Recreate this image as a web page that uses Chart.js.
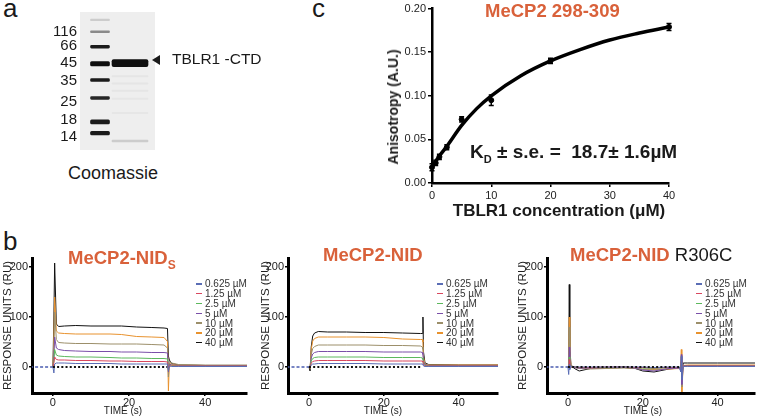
<!DOCTYPE html>
<html>
<head>
<meta charset="utf-8">
<script src="https://cdn.jsdelivr.net/npm/chart.js@4.4.1/dist/chart.umd.min.js"></script>
<style>
  body { margin: 0; background: #fff; font-family: "Liberation Sans", Arial, sans-serif; color: #1a1a1a; }
  #fig { position: relative; width: 762px; height: 420px; overflow: hidden; }
  canvas { position: absolute; }
  .t { position: absolute; white-space: nowrap; line-height: 1; }
  .c { position: absolute; white-space: nowrap; line-height: 1; transform: translate(-50%, -50%); }
  .panel { font-size: 26px; }
  .orange { color: #d9613a; font-weight: bold; }
  .legend { position: absolute; font-size: 10px; color: #333; }
  .legend div { height: 9.8px; display: flex; align-items: center; }
  .legend i { display: inline-block; width: 6px; height: 1.3px; margin-right: 3px; }
  .arrow { position: absolute; width: 0; height: 0; border-top: 5px solid transparent; border-bottom: 5px solid transparent; border-right: 8px solid #1a1a1a; }
  .time { font-size: 10px; color: #222; }
</style>
</head>
<body>
<div id="fig">
  <div class="t panel" style="left:3px;top:-5px;">a</div>
  <div class="t panel" style="left:312px;top:-5px;">c</div>
  <div class="t panel" style="left:3px;top:228px;">b</div>

  <canvas id="gel" width="120" height="162" style="left:40px;top:0px;"></canvas>
  <div class="t" style="left:68px;top:164px;font-size:18px;">Coomassie</div>
  <div class="arrow" style="left:152px;top:55px;"></div>
  <div class="t" style="left:172px;top:51px;font-size:15.5px;">TBLR1 -CTD</div>

  <canvas id="aniso" width="432" height="230" style="left:330px;top:0px;"></canvas>
  <div class="t orange" style="left:485px;top:2px;font-size:18.5px;">MeCP2 298-309</div>
  <div class="t" style="left:470px;top:142px;font-size:19px;font-weight:bold;">K<sub style="font-size:11px;">D</sub> ± s.e. =&nbsp; 18.7± 1.6µM</div>
  <div class="c" style="left:393px;top:107px;font-size:14px;font-weight:bold;transform:translate(-50%,-50%) rotate(-90deg);">Anisotropy (A.U.)</div>
  <div class="c" style="left:559px;top:210px;font-size:17px;font-weight:bold;">TBLR1 concentration (μM)</div>

  <canvas id="spr1" width="255" height="190" style="left:0px;top:230px;"></canvas>
  <canvas id="spr2" width="250" height="190" style="left:255px;top:230px;"></canvas>
  <canvas id="spr3" width="257" height="190" style="left:505px;top:230px;"></canvas>
  <div class="t orange" style="left:68px;top:249px;font-size:18.5px;">MeCP2-NID<sub style="font-size:12px;">S</sub></div>
  <div class="t orange" style="left:323px;top:246px;font-size:18.5px;">MeCP2-NID</div>
  <div class="t" style="left:570px;top:246px;font-size:18.5px;"><span class="orange">MeCP2-NID</span> R306C</div>
  <div class="c time" style="left:123px;top:411px;">TIME (s)</div>
  <div class="c time" style="left:383px;top:411px;">TIME (s)</div>
  <div class="c time" style="left:643px;top:411px;">TIME (s)</div>
  <div class="legend" id="leg1" style="left:196px;top:279px;"></div>
  <div class="legend" id="leg2" style="left:437px;top:279px;"></div>
  <div class="legend" id="leg3" style="left:696px;top:279px;"></div>
</div>

<script>
Chart.defaults.font.family = '"Liberation Sans", Arial, sans-serif';
Chart.defaults.color = '#222';
Chart.defaults.animation = false;

// panel a - gel, migration measured down from the top of the gel
const markerLabels = ['116', '66', '45', '35', '25', '18', '14'];
const markerLabelPos = [22, 38, 57, 77, 100, 120, 139];
const ladderBands = [[7.8, 9.6], [21, 23], [37.2, 40.4], [55.2, 60.2], [74.4, 77.6], [94.4, 97.6], [120.4, 125], [133.2, 137.2]];
const ladderDensity = [0.15, 0.45, 0.95, 1, 0.95, 0.9, 0.95, 0.95];
const sampleBands = [[53, 61], [71, 72.5], [79, 80.5], [87, 88.5], [96, 97.5], [112, 113.5], [143, 145]];
const sampleDensity = [1, 0.04, 0.04, 0.04, 0.035, 0.035, 0.15];

// panel c - anisotropy titration
const tblr1Conc = [0, 0.625, 1.25, 2.5, 5, 10, 20, 40];
const anisotropy = [0.018, 0.023, 0.030, 0.041, 0.073, 0.095, 0.140, 0.179];
const anisoErr = [0.004, 0.003, 0.003, 0.003, 0.003, 0.006, 0.003, 0.004];
const fitConc = [0, 0.625, 1.25, 2.5, 5, 7.5, 10, 15, 20, 25, 30, 35, 40];
const fitAniso = [0.018, 0.025, 0.031, 0.042, 0.066, 0.085, 0.100, 0.123, 0.140, 0.153, 0.164, 0.172, 0.179];

// panel b - SPR sensorgrams
const concLabels = ['0.625 µM', '1.25 µM', '2.5 µM', '5 µM', '10 µM', '20 µM', '40 µM'];
const concColors = ['#5a6db5', '#d8475e', '#5cb85c', '#7a4fa8', '#9c8f6a', '#e8922e', '#111111'];
const sprTimeTicks = [0, 20, 40];
const sprRespTicks = [0, 100, 200];
const zeroTime = [0, 30];
const zeroResp = [0, 0];
const preTime = [-6, 0];
const preResp = [0, 0];

const nidsTime = [0, 0.25, 0.45, 0.9, 1.5, 3, 6, 10, 15, 18, 22, 26, 29.2, 30.1, 30.35, 30.6, 31.2, 33, 40, 51];
const nidsResp = [
  [0, -12, 6, 8, 8, 8, 7, 7, 7, 6, 6, 6, 6, 6, -8, 2, 1, 1, 1, 1],
  [0, 8, 20, 15, 14, 14, 13, 13, 12, 12, 11, 11, 11, 10, -3, 3, 2, 2, 2, 2],
  [0, 12, 35, 24, 22, 21, 20, 20, 19, 18, 18, 17, 17, 16, -5, 4, 3, 2, 2, 2],
  [0, 20, 60, 38, 35, 33, 32, 31, 31, 30, 30, 29, 29, 28, -10, 6, 4, 3, 3, 3],
  [0, 40, 110, 55, 49, 48, 47, 47, 46, 46, 46, 45, 44, 38, -20, 12, 8, 5, 4, 4],
  [0, 60, 140, 72, 68, 67, 66, 66, 66, 65, 61, 60, 59, 51, -48, 8, 5, 4, 3, 3],
  [0, 100, 208, 86, 81, 82, 83, 82, 82, 82, 80, 79, 78, 77, 22, 14, 7, 4, 3, 3]
];

const nidTime = [0, 0.3, 0.6, 1, 1.5, 2.5, 5, 10, 15, 20, 25, 29.8, 30.3, 30.45, 30.6, 31, 32, 40, 50.5];
const nidResp = [
  [0, -1, 4, 6, 6, 7, 7, 7, 7, 6, 6, 6, 6, 5, 2, 1, 1, 1, 1],
  [0, -1, 8, 11, 12, 13, 13, 13, 13, 12, 12, 12, 12, 10, 4, 2, 2, 2, 2],
  [0, -1, 12, 17, 19, 20, 20, 20, 20, 19, 19, 19, 18, 15, 6, 3, 2, 2, 2],
  [0, -2, 18, 26, 29, 31, 31, 31, 31, 30, 30, 30, 29, 25, 10, 4, 3, 3, 3],
  [0, -2, 25, 37, 41, 44, 44, 44, 44, 43, 43, 42, 40, 35, 15, 5, 4, 3, 3],
  [0, -3, 35, 52, 57, 60, 60, 60, 60, 59, 56, 55, 55, 50, 20, 6, 4, 4, 4],
  [0, -8, 40, 62, 68, 71, 70, 70, 69, 69, 68, 67, 67, 100, 30, 8, 5, 4, 4]
];

const r306cTime = [0, 0.2, 0.35, 0.5, 0.8, 1.5, 3, 6, 10, 15, 18, 20, 23, 27, 29.8, 30.15, 30.3, 30.45, 30.8, 32, 40, 50];
const r306cResp = [
  [0, -15, 5, -5, 2, 0, 0, 0, 0, 0, 0, 0, -1, 0, 0, -10, 22, -25, 1, 1, 1, 1],
  [0, 0, 15, 3, 0, 0, -1, -1, 0, 0, -1, -1, -2, -1, -1, -5, 12, -12, 2, 2, 2, 2],
  [0, 0, 20, 5, 0, 0, -1, -1, -1, 0, -1, -2, -3, -1, -1, -5, 10, -15, 2, 2, 2, 2],
  [0, 0, 40, 10, 0, -1, -2, -2, -1, 0, -2, -6, -8, -3, -2, -8, 25, -35, 3, 3, 3, 3],
  [0, 0, 80, 20, 2, -1, -3, -4, -3, -2, -3, -5, -6, -3, -2, -6, 20, -40, 3, 3, 3, 3],
  [0, 0, 100, 30, 3, 0, -2, -3, -2, -1, -2, -4, -5, -4, -3, -5, 35, -50, 3, 4, 4, 4],
  [0, 0, 165, 40, 5, -2, -8, -3, -2, -1, -3, -8, -10, -4, -2, -5, 10, -20, 8, 8, 8, 8]
];

function pts(xs, ys) {
  return xs.map((x, i) => ({ x: x, y: ys[i] }));
}

// ---------- gel ----------
const gelBg = {
  id: 'gelBg',
  beforeDatasetsDraw(chart) {
    const a = chart.chartArea, ctx = chart.ctx;
    ctx.save();
    ctx.fillStyle = '#eeeeee';
    ctx.fillRect(a.left, a.top, a.right - a.left, a.bottom - a.top);
    ctx.restore();
  }
};

new Chart(document.getElementById('gel'), {
  type: 'bar',
  data: {
    datasets: [
      {
        data: ladderBands.map(b => ({ x: 1, y: b })),
        backgroundColor: ladderDensity.map(d => 'rgba(15,15,15,' + d + ')'),
        barThickness: 19, grouped: false, borderRadius: 1.5, borderSkipped: false
      },
      {
        data: sampleBands.map(b => ({ x: 2.5, y: b })),
        backgroundColor: sampleDensity.map(d => 'rgba(15,15,15,' + d + ')'),
        barThickness: 36, grouped: false, borderRadius: 2, borderSkipped: false
      }
    ]
  },
  options: {
    responsive: false,
    events: [],
    layout: { padding: { left: 0, right: 5, top: 3, bottom: 5 } },
    plugins: { legend: { display: false }, tooltip: { enabled: false } },
    scales: {
      x: { type: 'linear', min: 0, max: 3.75, offset: false, display: false },
      y: {
        type: 'linear', min: 0, max: 154, reverse: true,
        afterFit: s => { s.width = 40; },
        afterBuildTicks: s => { s.ticks = markerLabelPos.map(v => ({ value: v })); },
        grid: { display: false, drawTicks: false },
        border: { display: false },
        ticks: { autoSkip: false, padding: 3, color: '#1a1a1a', font: { size: 15 }, callback: (v, i) => markerLabels[i] }
      }
    }
  },
  plugins: [gelBg]
});

// ---------- anisotropy ----------
const errorBars = {
  id: 'errorBars',
  afterDatasetsDraw(chart) {
    const ctx = chart.ctx, x = chart.scales.x, y = chart.scales.y;
    ctx.save();
    ctx.strokeStyle = '#000';
    ctx.lineWidth = 1.5;
    tblr1Conc.forEach((c, i) => {
      const px = x.getPixelForValue(c);
      const top = y.getPixelForValue(anisotropy[i] + anisoErr[i]);
      const bot = y.getPixelForValue(anisotropy[i] - anisoErr[i]);
      ctx.beginPath();
      ctx.moveTo(px, top); ctx.lineTo(px, bot);
      ctx.moveTo(px - 2.5, top); ctx.lineTo(px + 2.5, top);
      ctx.moveTo(px - 2.5, bot); ctx.lineTo(px + 2.5, bot);
      ctx.stroke();
    });
    ctx.restore();
  }
};

const axisGrid = { drawOnChartArea: false, color: '#000', lineWidth: 1.5, tickLength: 4 };

new Chart(document.getElementById('aniso'), {
  type: 'line',
  data: {
    datasets: [
      {
        data: pts(tblr1Conc, anisotropy), showLine: false, clip: false,
        pointRadius: 2.5, pointBackgroundColor: '#000', pointBorderColor: '#000'
      },
      {
        data: pts(fitConc, fitAniso), borderColor: '#000', borderWidth: 3.5,
        pointRadius: 0, cubicInterpolationMode: 'monotone', clip: false
      }
    ]
  },
  options: {
    responsive: false,
    events: [],
    layout: { padding: { left: 0, right: 93, top: 7, bottom: 0 } },
    plugins: { legend: { display: false }, tooltip: { enabled: false } },
    scales: {
      x: {
        type: 'linear', min: 0, max: 40,
        afterFit: s => { s.height = 47; },
        border: { color: '#000', width: 2.5 },
        grid: axisGrid,
        ticks: { stepSize: 10, padding: 2, font: { size: 11 }, maxRotation: 0 }
      },
      y: {
        type: 'linear', min: 0, max: 0.2,
        afterFit: s => { s.width = 102; },
        border: { color: '#000', width: 2.5 },
        grid: axisGrid,
        ticks: { stepSize: 0.05, padding: 2, font: { size: 11 }, callback: v => v.toFixed(2) }
      }
    }
  },
  plugins: [errorBars]
});

// ---------- SPR ----------
function makeSpr(id, time, resp, xMin, xMax, yWidth, padRight, titlePad) {
  const datasets = [
    { data: pts(zeroTime, zeroResp), borderColor: '#111', borderWidth: 2, borderDash: [2, 2.2], pointRadius: 0 },
    { data: pts(preTime, preResp), borderColor: '#4a5cb0', borderWidth: 1.5, borderDash: [3, 2], pointRadius: 0 }
  ];
  for (let k = resp.length - 1; k >= 0; k--) {
    datasets.splice(2, 0, { data: pts(time, resp[k]), borderColor: concColors[k], borderWidth: 1, pointRadius: 0 });
  }
  const axis = {
    border: { color: '#000', width: 3, dash: [4, 1.5] },
    grid: { drawOnChartArea: false, color: '#000', lineWidth: 1.5, tickLength: 3 }
  };
  new Chart(document.getElementById(id), {
    type: 'line',
    data: { datasets: datasets },
    options: {
      responsive: false,
      events: [],
      layout: { padding: { left: 0, right: padRight, top: 28, bottom: 0 } },
      plugins: { legend: { display: false }, tooltip: { enabled: false } },
      scales: {
        x: Object.assign({
          type: 'linear', min: xMin, max: xMax,
          afterFit: s => { s.height = 27; },
          afterBuildTicks: s => { s.ticks = sprTimeTicks.map(v => ({ value: v })); },
          ticks: { padding: 0, font: { size: 11 }, maxRotation: 0, autoSkip: false }
        }, axis),
        y: Object.assign({
          type: 'linear', min: -52, max: 218,
          afterFit: s => { s.width = yWidth; },
          afterBuildTicks: s => { s.ticks = sprRespTicks.map(v => ({ value: v })); },
          ticks: { padding: 1, font: { size: 11 }, autoSkip: false },
          title: { display: true, text: 'RESPONSE UNITS (RU)', color: '#222', font: { size: 11.5 }, padding: { top: titlePad, bottom: 0 } }
        }, axis)
      }
    }
  });
}

makeSpr('spr1', nidsTime, nidsResp, -5.5, 51, 32, 8, 0.6);
makeSpr('spr2', nidTime, nidResp, -5.6, 50.5, 33, 7, 4.1);
makeSpr('spr3', r306cTime, r306cResp, -5.6, 50, 42, 7, 11.1);

// legends
['leg1', 'leg2', 'leg3'].forEach(id => {
  const box = document.getElementById(id);
  concLabels.forEach((lab, k) => {
    const row = document.createElement('div');
    const mark = document.createElement('i');
    mark.style.background = concColors[k];
    row.appendChild(mark);
    row.appendChild(document.createTextNode(lab));
    box.appendChild(row);
  });
});
</script>
</body>
</html>
